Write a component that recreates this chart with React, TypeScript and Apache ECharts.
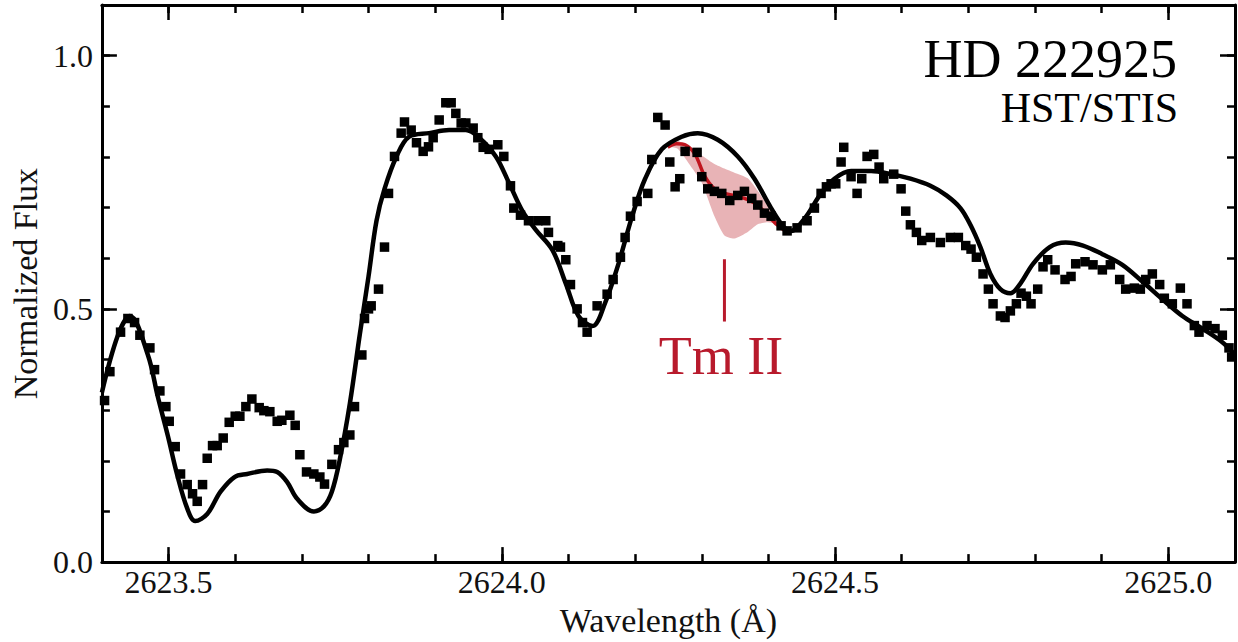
import React, { useEffect, useRef } from "react";
import * as echarts from "echarts";

const xMin = 2623.4;
const xMax = 2625.1;
const yMin = 0;
const yMax = 1.1;
const xMajorTicks = [2623.5, 2624.0, 2624.5, 2625.0];
const yMajorTicks = [0, 0.5, 1.0];

const obsWave = [
  2623.404, 2623.412, 2623.428, 2623.439, 2623.449, 2623.457, 2623.472, 2623.479, 2623.487, 2623.496,
  2623.501, 2623.51, 2623.518, 2623.528, 2623.536, 2623.543, 2623.551, 2623.558, 2623.566, 2623.573,
  2623.582, 2623.591, 2623.6, 2623.607, 2623.616, 2623.625, 2623.636, 2623.643, 2623.652, 2623.663,
  2623.67, 2623.682, 2623.69, 2623.697, 2623.707, 2623.718, 2623.727, 2623.734, 2623.745, 2623.755,
  2623.763, 2623.772, 2623.779, 2623.79, 2623.794, 2623.8, 2623.804, 2623.815, 2623.824, 2623.83,
  2623.839, 2623.849, 2623.854, 2623.864, 2623.872, 2623.882, 2623.89, 2623.897, 2623.906, 2623.916,
  2623.924, 2623.931, 2623.939, 2623.946, 2623.957, 2623.964, 2623.972, 2623.981, 2623.994, 2624.003,
  2624.013, 2624.018, 2624.028, 2624.04, 2624.054, 2624.066, 2624.07, 2624.084, 2624.088, 2624.096,
  2624.103, 2624.113, 2624.121, 2624.128, 2624.143, 2624.158, 2624.167, 2624.178, 2624.185, 2624.193,
  2624.203, 2624.219, 2624.225, 2624.234, 2624.245, 2624.252, 2624.26, 2624.267, 2624.275, 2624.293,
  2624.3, 2624.309, 2624.319, 2624.33, 2624.342, 2624.354, 2624.364, 2624.375, 2624.384, 2624.394,
  2624.404, 2624.419, 2624.428, 2624.443, 2624.458, 2624.469, 2624.479, 2624.487, 2624.494, 2624.501,
  2624.509, 2624.513, 2624.524, 2624.533, 2624.54, 2624.548, 2624.558, 2624.566, 2624.573, 2624.588,
  2624.599, 2624.606, 2624.613, 2624.622, 2624.63, 2624.643, 2624.658, 2624.673, 2624.685, 2624.696,
  2624.704, 2624.712, 2624.722, 2624.73, 2624.737, 2624.748, 2624.755, 2624.763, 2624.772, 2624.779,
  2624.787, 2624.794, 2624.804, 2624.812, 2624.819, 2624.83, 2624.845, 2624.854, 2624.861, 2624.875,
  2624.887, 2624.901, 2624.913, 2624.927, 2624.936, 2624.949, 2624.958, 2624.966, 2624.976, 2624.987,
  2624.994, 2625.006, 2625.018, 2625.028, 2625.039, 2625.046, 2625.058, 2625.07, 2625.081, 2625.091,
  2625.095,
];
const obsFlux = [
  0.319, 0.376, 0.454, 0.481, 0.473, 0.448, 0.423, 0.38, 0.338, 0.307,
  0.278, 0.228, 0.174, 0.153, 0.135, 0.12, 0.153, 0.205, 0.23, 0.23,
  0.245, 0.276, 0.288, 0.288, 0.307, 0.322, 0.305, 0.299, 0.297, 0.278,
  0.28, 0.29, 0.27, 0.212, 0.178, 0.174, 0.168, 0.154, 0.193, 0.222,
  0.236, 0.251, 0.307, 0.409, 0.481, 0.5, 0.506, 0.539, 0.622, 0.728,
  0.801, 0.847, 0.869, 0.853, 0.828, 0.811, 0.82, 0.838, 0.873, 0.907,
  0.907, 0.886, 0.867, 0.867, 0.857, 0.838, 0.819, 0.815, 0.824, 0.801,
  0.743, 0.699, 0.685, 0.674, 0.674, 0.674, 0.651, 0.625, 0.622, 0.597,
  0.548, 0.5, 0.473, 0.454, 0.506, 0.529, 0.558, 0.602, 0.641, 0.683,
  0.712, 0.728, 0.795, 0.878, 0.863, 0.79, 0.741, 0.757, 0.811, 0.809,
  0.761, 0.737, 0.732, 0.728, 0.714, 0.724, 0.732, 0.718, 0.705, 0.689,
  0.683, 0.664, 0.654, 0.66, 0.674, 0.699, 0.728, 0.741, 0.747, 0.747,
  0.79, 0.819, 0.761, 0.728, 0.757, 0.801, 0.805, 0.78, 0.757, 0.766,
  0.737, 0.693, 0.666, 0.651, 0.635, 0.641, 0.631, 0.641, 0.641, 0.625,
  0.618, 0.602, 0.569, 0.539, 0.51, 0.486, 0.483, 0.496, 0.51, 0.531,
  0.525, 0.51, 0.539, 0.583, 0.597, 0.577, 0.558, 0.564, 0.589, 0.593,
  0.587, 0.577, 0.587, 0.558, 0.539, 0.541, 0.539, 0.558, 0.569, 0.548,
  0.521, 0.51, 0.541, 0.51, 0.467, 0.454, 0.467, 0.461, 0.448, 0.423,
  0.405,
];

const modelWave = [
  2623.4, 2623.424, 2623.442, 2623.469, 2623.484, 2623.499, 2623.513, 2623.528, 2623.54, 2623.558,
  2623.578, 2623.599, 2623.618, 2623.648, 2623.663, 2623.678, 2623.693, 2623.718, 2623.733, 2623.745,
  2623.757, 2623.772, 2623.787, 2623.8, 2623.812, 2623.824, 2623.842, 2623.861, 2623.891, 2623.921,
  2623.946, 2623.966, 2623.991, 2624.01, 2624.031, 2624.051, 2624.076, 2624.096, 2624.115, 2624.136,
  2624.155, 2624.175, 2624.196, 2624.215, 2624.24, 2624.27, 2624.294, 2624.324, 2624.354, 2624.379,
  2624.404, 2624.424, 2624.434, 2624.454, 2624.479, 2624.499, 2624.524, 2624.554, 2624.584, 2624.613,
  2624.643, 2624.667, 2624.688, 2624.703, 2624.718, 2624.733, 2624.748, 2624.763, 2624.778, 2624.797,
  2624.822, 2624.846, 2624.872, 2624.901, 2624.931, 2624.961, 2624.991, 2625.021, 2625.051, 2625.081,
  2625.1,
];
const modelFlux = [
  0.335, 0.448, 0.486, 0.409, 0.326, 0.249, 0.172, 0.106, 0.081, 0.095,
  0.139, 0.168, 0.174, 0.181, 0.178, 0.158, 0.125, 0.1, 0.11, 0.139,
  0.203, 0.313, 0.45, 0.564, 0.674, 0.737, 0.801, 0.84, 0.847, 0.853,
  0.853, 0.838, 0.801, 0.751, 0.693, 0.656, 0.616, 0.55, 0.486, 0.466,
  0.512, 0.589, 0.685, 0.757, 0.815, 0.84, 0.847, 0.834, 0.801, 0.757,
  0.699, 0.66, 0.654, 0.678, 0.728, 0.757, 0.772, 0.772, 0.766, 0.757,
  0.743, 0.724, 0.699, 0.666, 0.622, 0.569, 0.539, 0.531, 0.55, 0.589,
  0.622, 0.631, 0.625, 0.608, 0.587, 0.554, 0.519, 0.486, 0.461, 0.434,
  0.409,
];

const tmWave = [2624.249, 2624.262, 2624.275, 2624.29, 2624.304, 2624.319, 2624.334, 2624.349, 2624.364, 2624.375, 2624.39, 2624.399, 2624.413, 2624.424];
const tmFlux = [0.819, 0.826, 0.824, 0.805, 0.763, 0.737, 0.728, 0.724, 0.718, 0.712, 0.697, 0.685, 0.666, 0.655];

const bandWave = [2624.252, 2624.264, 2624.28, 2624.3, 2624.319, 2624.334, 2624.349, 2624.369, 2624.384, 2624.399, 2624.409, 2624.42];
const bandHigh = [0.824, 0.832, 0.818, 0.803, 0.786, 0.777, 0.769, 0.758, 0.733, 0.703, 0.685, 0.668];
const bandLow = [0.82, 0.816, 0.788, 0.749, 0.683, 0.645, 0.639, 0.652, 0.667, 0.671, 0.669, 0.666];

const tmMarkWave = [2624.334, 2624.334];
const tmMarkFlux = [0.598, 0.475];

const starName = "HD 222925";
const instrument = "HST/STIS";
const lineLabel = "Tm II";
const xTitle = "Wavelength (Å)";
const yTitle = "Normalized Flux";

const FONT = '"Liberation Serif", "Times New Roman", serif';
const INK = "#000";
const RED = "#b81a2c";

function makeXAxes() {
  const base = { type: "value", min: xMin, max: xMax, gridIndex: 0, splitLine: { show: false } };
  const line = { show: true, onZero: false, lineStyle: { color: INK, width: 3 } };
  const tickStyle = { color: INK, width: 2.5 };
  return [
    {
      ...base,
      position: "bottom",
      interval: 0.1,
      axisLine: line,
      axisTick: { show: true, inside: true, length: 8, lineStyle: tickStyle },
      axisLabel: {
        show: true,
        customValues: xMajorTicks,
        formatter: (v: number) => v.toFixed(1),
        margin: 4,
        color: "#111",
        fontFamily: FONT,
        fontSize: 32,
      },
      name: xTitle,
      nameLocation: "middle",
      nameGap: 32,
      nameTextStyle: { color: "#111", fontFamily: FONT, fontSize: 34 },
    },
    {
      ...base,
      position: "bottom",
      axisLine: { show: false, onZero: false },
      axisTick: { show: true, inside: true, length: 15, customValues: xMajorTicks, lineStyle: tickStyle },
      axisLabel: { show: false },
    },
    {
      ...base,
      position: "top",
      interval: 0.1,
      axisLine: line,
      axisTick: { show: true, inside: true, length: 8, lineStyle: tickStyle },
      axisLabel: { show: false },
    },
    {
      ...base,
      position: "top",
      axisLine: { show: false, onZero: false },
      axisTick: { show: true, inside: true, length: 15, customValues: xMajorTicks, lineStyle: tickStyle },
      axisLabel: { show: false },
    },
  ];
}

function makeYAxes() {
  const base = { type: "value", min: yMin, max: yMax, gridIndex: 0, splitLine: { show: false } };
  const line = { show: true, onZero: false, lineStyle: { color: INK, width: 3 } };
  const tickStyle = { color: INK, width: 2.5 };
  return [
    {
      ...base,
      position: "left",
      interval: 0.1,
      axisLine: line,
      axisTick: { show: true, inside: true, length: 8, lineStyle: tickStyle },
      axisLabel: {
        show: true,
        customValues: yMajorTicks,
        formatter: (v: number) => v.toFixed(1),
        margin: 9,
        color: "#111",
        fontFamily: FONT,
        fontSize: 32,
      },
      name: yTitle,
      nameLocation: "middle",
      nameRotate: 90,
      nameGap: 45,
      nameTextStyle: { color: "#111", fontFamily: FONT, fontSize: 34 },
    },
    {
      ...base,
      position: "left",
      axisLine: { show: false, onZero: false },
      axisTick: { show: true, inside: true, length: 15, customValues: yMajorTicks, lineStyle: tickStyle },
      axisLabel: { show: false },
    },
    {
      ...base,
      position: "right",
      interval: 0.1,
      axisLine: line,
      axisTick: { show: true, inside: true, length: 8, lineStyle: tickStyle },
      axisLabel: { show: false },
    },
    {
      ...base,
      position: "right",
      axisLine: { show: false, onZero: false },
      axisTick: { show: true, inside: true, length: 15, customValues: yMajorTicks, lineStyle: tickStyle },
      axisLabel: { show: false },
    },
  ];
}

function buildOption() {
  const obsData = obsWave.map((w, i) => [w, obsFlux[i]]);
  const modelData = modelWave.map((w, i) => [w, modelFlux[i]]);
  const tmData = tmWave.map((w, i) => [w, tmFlux[i]]);
  const markData = tmMarkWave.map((w, i) => [w, tmMarkFlux[i]]);
  return {
    animation: false,
    backgroundColor: "#fff",
    grid: { left: 93, right: 3, top: 5, bottom: 70, containLabel: false },
    xAxis: makeXAxes(),
    yAxis: makeYAxes(),
    series: [
      {
        type: "custom",
        name: "Tm band",
        xAxisIndex: 0,
        yAxisIndex: 0,
        silent: true,
        z: 1,
        data: [[bandWave[0], bandLow[0]]],
        renderItem: (_params: any, api: any) => {
          const pts: number[][] = [];
          for (let i = 0; i < bandWave.length; i++) pts.push(api.coord([bandWave[i], bandHigh[i]]));
          for (let i = bandWave.length - 1; i >= 0; i--) pts.push(api.coord([bandWave[i], bandLow[i]]));
          return { type: "polygon", shape: { points: pts, smooth: 0.2 }, style: { fill: "#e8b3b6", stroke: null } };
        },
      },
      {
        type: "line",
        name: "with Tm",
        xAxisIndex: 0,
        yAxisIndex: 0,
        data: tmData,
        showSymbol: false,
        smooth: 0.3,
        z: 2,
        lineStyle: { color: "#c0141e", width: 3.5 },
      },
      {
        type: "line",
        name: "model",
        xAxisIndex: 0,
        yAxisIndex: 0,
        data: modelData,
        showSymbol: false,
        smooth: 0.35,
        z: 3,
        lineStyle: { color: INK, width: 4.5 },
      },
      {
        type: "line",
        name: "Tm marker",
        xAxisIndex: 0,
        yAxisIndex: 0,
        data: markData,
        showSymbol: false,
        z: 3,
        lineStyle: { color: RED, width: 3 },
      },
      {
        type: "scatter",
        name: "observed",
        xAxisIndex: 0,
        yAxisIndex: 0,
        data: obsData,
        symbol: "rect",
        symbolSize: 9.5,
        z: 4,
        itemStyle: { color: INK, opacity: 1 },
      },
    ],
    graphic: [
      {
        type: "text",
        x: 1177,
        y: 59,
        style: {
          text: starName,
          fontFamily: FONT,
          fontSize: 54,
          fill: INK,
          align: "right",
          verticalAlign: "middle",
        },
      },
      {
        type: "text",
        x: 1178,
        y: 108,
        style: {
          text: instrument,
          fontFamily: FONT,
          fontSize: 42,
          fill: INK,
          align: "right",
          verticalAlign: "middle",
        },
      },
      {
        type: "text",
        x: 721,
        y: 356,
        style: {
          text: lineLabel,
          fontFamily: FONT,
          fontSize: 54,
          fill: RED,
          align: "center",
          verticalAlign: "middle",
        },
      },
    ],
  };
}

export default function App() {
  const ref = useRef<HTMLDivElement>(null);
  useEffect(() => {
    if (!ref.current) return;
    const chart = echarts.init(ref.current, undefined, { renderer: "svg" });
    chart.setOption(buildOption() as any);
    return () => chart.dispose();
  }, []);
  return (
    <div
      ref={ref}
      style={{ position: "absolute", left: 0, top: 0, width: 1238, height: 642, background: "#fff" }}
    />
  );
}
